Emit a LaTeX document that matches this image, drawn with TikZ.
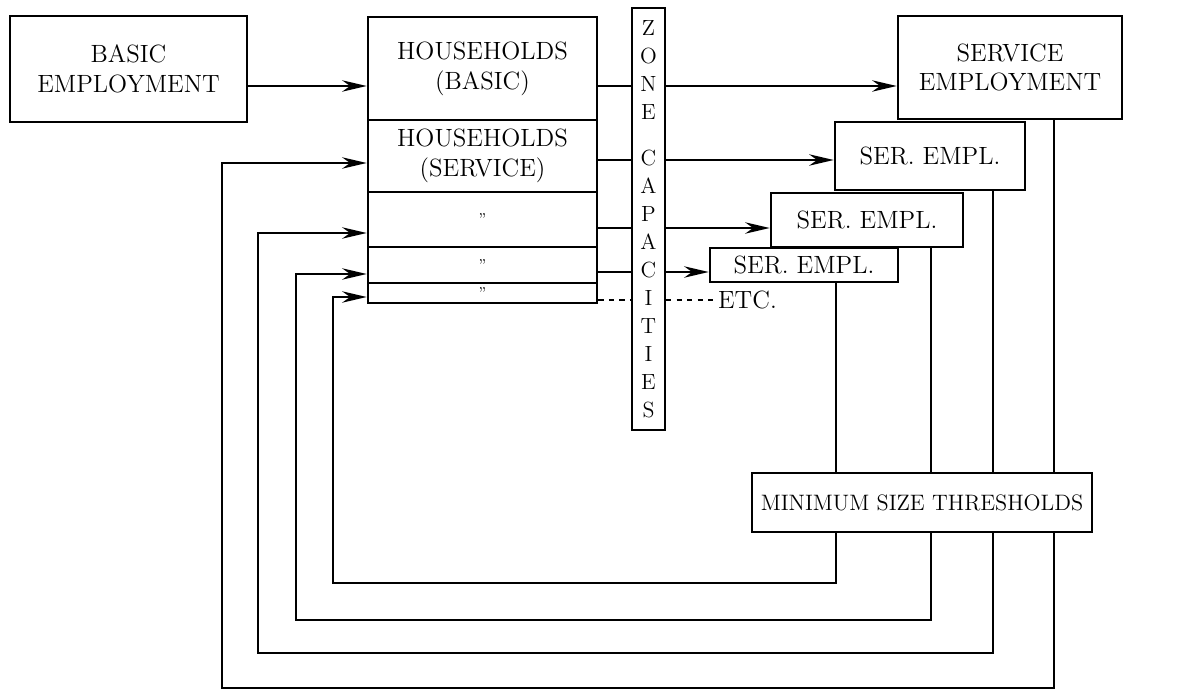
\documentclass[tikz,border=0pt]{standalone}
\usepackage{tikz}
\usetikzlibrary{arrows.meta,positioning,calc}

\begin{document}
\begin{tikzpicture}[
    x=0.02cm, y=-0.02cm,
    box/.style={rectangle, draw, line width=1.5pt, inner sep=0pt, align=center, font=\fontsize{14.2}{17}\selectfont},
    arrow/.style={-{Stealth[length=14pt,width=6.5pt]}, line width=1pt},
    link/.style={line width=1pt}
]

\useasboundingbox (0,0) rectangle (1196,692);

% Basic employment and households
\node[box, minimum width=4.74cm, minimum height=2.12cm] (basic) at (128.5,69) {BASIC\\EMPLOYMENT};
\node[box, minimum width=4.58cm, minimum height=2.06cm] (hh1) at (482.5,68.5) {HOUSEHOLDS\\(BASIC)};
\node[box, minimum width=4.58cm, minimum height=1.44cm] (hh2) at (482.5,156) {HOUSEHOLDS\\(SERVICE)};
\node[box, minimum width=4.58cm, minimum height=1.1cm, font=\small] (hh3) at (482.5,219.5) {''};
\node[box, minimum width=4.58cm, minimum height=0.72cm, font=\small] (hh4) at (482.5,265) {''};
\node[box, minimum width=4.58cm, minimum height=0.4cm, font=\small] (hh5) at (482.5,293) {''};

% Zone capacities
\node[box, minimum width=0.66cm, minimum height=8.44cm, line width=1.2pt, font=\fontsize{12.5}{15.9}\selectfont] (zone) at (648.5,219)
    {Z\\O\\N\\E\\[10.8pt]C\\A\\P\\A\\C\\I\\T\\I\\E\\S};

% Service employment
\node[box, minimum width=4.48cm, minimum height=2.06cm] (se) at (1010,67.5) {SERVICE\\EMPLOYMENT};
\node[box, minimum width=3.8cm, minimum height=1.36cm] (ser1) at (930,156) {SER.\@ EMPL.};
\node[box, minimum width=3.84cm, minimum height=1.08cm] (ser2) at (867,220) {SER.\@ EMPL.};
\node[box, minimum width=3.76cm, minimum height=0.68cm] (ser3) at (804,265) {SER.\@ EMPL.};
\node[anchor=west, inner sep=1pt, font=\fontsize{14.2}{17}\selectfont] (etc) at (716,300) {ETC.};

% Thresholds
\node[box, minimum width=6.8cm, minimum height=1.18cm, font=\fontsize{12.7}{15}\selectfont] (mst) at (922,502.5) {MINIMUM SIZE THRESHOLDS};

% Levels
\coordinate (r1) at (0,86);
\coordinate (r2) at (0,160);
\coordinate (r3) at (0,228);
\coordinate (r4) at (0,272);
\coordinate (r5) at (0,300);

% Forward flows
\draw[arrow] (basic.east |- r1) -- (hh1.west |- r1);
\draw[link] (hh1.east |- r1) -- (zone.west |- r1);
\draw[arrow] (zone.east |- r1) -- (se.west |- r1);
\draw[link] (hh2.east |- r2) -- (zone.west |- r2);
\draw[arrow] (zone.east |- r2) -- (ser1.west |- r2);
\draw[link] (hh3.east |- r3) -- (zone.west |- r3);
\draw[arrow] (zone.east |- r3) -- (ser2.west |- r3);
\draw[link] (hh4.east |- r4) -- (zone.west |- r4);
\draw[arrow] (zone.east |- r4) -- (ser3.west |- r4);
\draw[link, dashed] (hh5.east |- r5) -- (zone.west |- r5);
\draw[link, dashed] (zone.east |- r5) -- (etc.west);

% Feedback loops
\coordinate (v0) at (1054,688);
\coordinate (v1) at (993,653);
\coordinate (v2) at (931,620);
\coordinate (v3) at (836,583);
\coordinate (w0) at (222,163);
\coordinate (w1) at (258,233);
\coordinate (w2) at (296,274);
\coordinate (w3) at (333,297);

\draw[link] (se.south -| v0) -- (mst.north -| v0);
\draw[link] (ser1.south -| v1) -- (mst.north -| v1);
\draw[link] (ser2.south -| v2) -- (mst.north -| v2);
\draw[link] (ser3.south -| v3) -- (mst.north -| v3);

\draw[arrow] (mst.south -| v0) -- (v0) -| (w0) -- (hh2.west |- w0);
\draw[arrow] (mst.south -| v1) -- (v1) -| (w1) -- (hh3.west |- w1);
\draw[arrow] (mst.south -| v2) -- (v2) -| (w2) -- (hh4.west |- w2);
\draw[arrow] (mst.south -| v3) -- (v3) -| (w3) -- (hh5.west |- w3);

\end{tikzpicture}
\end{document}
